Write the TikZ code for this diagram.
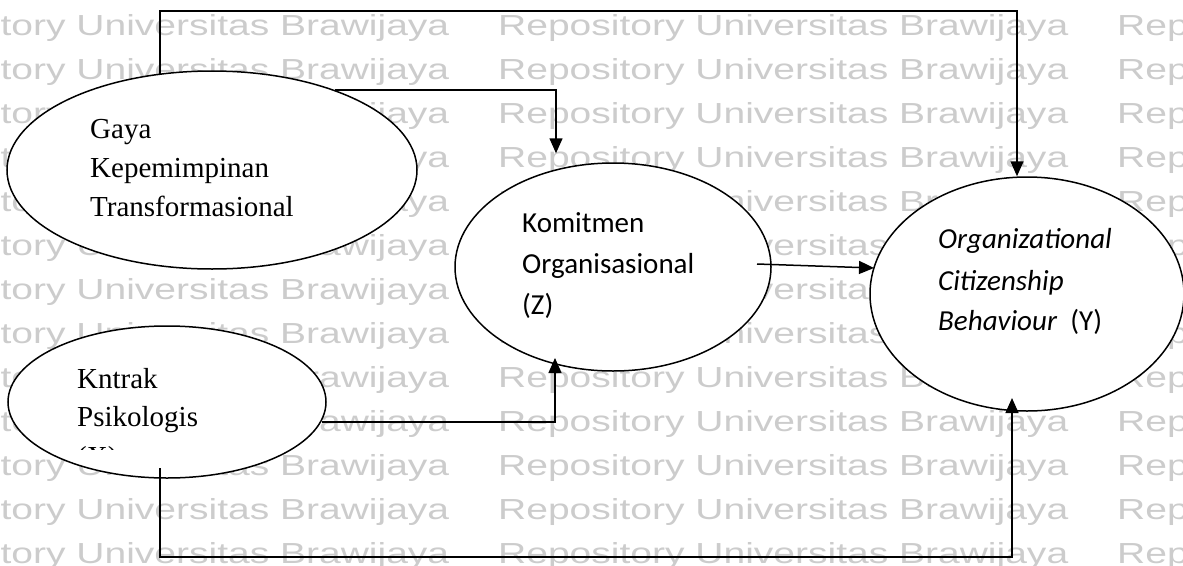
\documentclass[tikz,border=0pt]{standalone}
\usepackage{fontspec}
\setmainfont{Liberation Serif}
\newfontfamily\wmfont{Liberation Sans}
\newfontfamily\calfont{Carlito}
\usetikzlibrary{arrows.meta,shapes.geometric}
\definecolor{wmgray}{gray}{0.8}
\begin{document}
\begin{tikzpicture}[x=1pt,y=-1pt,
  var/.style={draw, line width=1.5pt, fill=white, ellipse, inner sep=0pt},
  serif/.style={inner sep=0pt, anchor=base west, font=\fontsize{29}{34}\selectfont},
  sans/.style={inner sep=0pt, anchor=base west, font=\calfont\fontsize{29}{34}\selectfont},
  wm/.style={inner sep=0pt, anchor=base west, text=wmgray, font=\wmfont\fontsize{29}{34}\selectfont},
  arr/.style={line width=1.5pt, -{Triangle[length=15pt,width=13pt]}}]
\useasboundingbox (0,0) rectangle (1183,565);

% background stamp rows
\begin{scope}
  \clip (0,0) rectangle (1183,565);
  \foreach \r in {0,...,12}
    \foreach \c in {-121,498,1117}
      \node[wm] (wm-\r-\c) at (\c,35+44*\r)
        {\scalebox{1.345}[1]{Repository Universitas Brawijaya}};
\end{scope}

% variables
\node[var, minimum width=410pt, minimum height=198pt] (gaya) at (212,170) {};
\node[var, minimum width=318pt, minimum height=152pt] (kontrak) at (167,402) {};
\node[var, minimum width=316pt, minimum height=208pt] (kom) at (613,267) {};
\node[var, minimum width=314pt, minimum height=234pt] (ocb) at (1027,294) {};

% labels
\node[serif] (g1) at (90,138) {Gaya};
\node[serif] (g2) at (90,177) {Kepemimpinan};
\node[serif] (g3) at (90,216) {Transformasional};

\node[serif] (k1) at (77,388) {Kntrak};
\node[serif] (k2) at (77,426) {Psikologis};
\begin{scope}
  \clip (60,440) rectangle (220,449);
  \node[serif] (k3) at (77,466) {(X)};
\end{scope}

\node[sans] (z1) at (522,232) {Komitmen};
\node[sans] (z2) at (522,273) {Organisasional};
\node[sans] (z3) at (522,314) {(Z)};

\node[sans] (y1) at (938,248) {\itshape Organizational};
\node[sans] (y2) at (938,290) {\itshape Citizenship};
\node[sans] (y3) at (938,330) {\textit{Behaviour}\ \ (Y)};

% connector bends
\coordinate (a0) at (160,74);
\coordinate (a1) at (160,11);
\coordinate (a2) at (1017,11);
\coordinate (b0) at (335,90);
\coordinate (b1) at (556,90);
\coordinate (c0) at (322,422);
\coordinate (c1) at (555,422);
\coordinate (c2) at (555,358);
\coordinate (d0) at (160,468);
\coordinate (d1) at (160,557);
\coordinate (d2) at (1012,557);
\coordinate (d3) at (1012,398);
\coordinate (e0) at (757,264);
\coordinate (e1) at (874,268);

% connectors
\draw[arr] (a0) -- (a1) -- (a2) -- (a2 |- ocb.north);
\draw[arr, shorten >=9pt] (b0) -- (b1) -- (b1 |- kom.north);
\draw[arr] (c0) -- (c1) -- (c2);
\draw[arr] (d0) -- (d1) -- (d2) -- (d3);
\draw[arr] (e0) -- (e1);
\end{tikzpicture}
\end{document}
